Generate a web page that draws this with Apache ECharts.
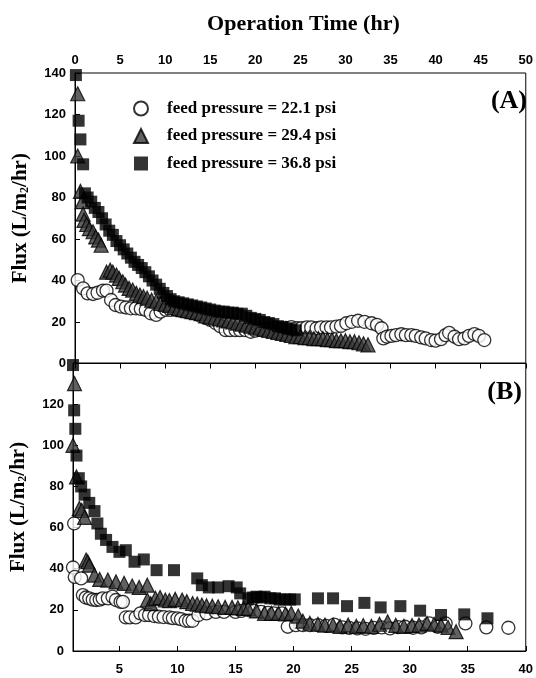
<!DOCTYPE html>
<html>
<head>
<meta charset="utf-8">
<script src="https://cdn.jsdelivr.net/npm/echarts@6/dist/echarts.min.js"></script>
<style>
  html, body { margin: 0; padding: 0; background: #fff; }
  #chart { width: 536px; height: 678px; }
</style>
</head>
<body>
<div id="chart"></div>
<script>
// series names
var names = ['feed pressure = 22.1 psi', 'feed pressure = 29.4 psi', 'feed pressure = 36.8 psi'];

// panel A: operation time (hr) vs flux
var aTime22 = [0.3, 0.9, 1.4, 2.0, 2.5, 3.1, 3.5, 4.0, 4.5, 5.1, 5.65, 6.2, 6.75, 7.3, 7.85, 8.4, 9.0, 9.5, 10.1, 10.6, 11.2, 11.7, 12.3, 12.8, 13.4, 13.9, 14.5, 15.0, 15.6, 16.1, 16.7, 17.2, 17.8, 18.3, 18.9, 19.5, 20.0, 20.6, 21.1, 21.7, 22.2, 22.8, 23.4, 24.0, 24.6, 25.1, 25.7, 26.2, 26.8, 27.3, 27.9, 28.4, 29.0, 29.5, 30.1, 30.7, 31.4, 32.1, 32.9, 33.5, 34.0, 34.2, 34.6, 35.1, 35.6, 36.2, 36.7, 37.3, 37.8, 38.4, 38.9, 39.5, 40.0, 40.6, 41.1, 41.5, 42.1, 42.6, 43.2, 43.7, 44.3, 44.8, 45.4];
var aFlux22 = [40.2, 36.2, 33.8, 33.5, 34.1, 35.1, 35.1, 30.6, 28.2, 27.4, 27.0, 26.6, 26.6, 26.3, 25.8, 24.2, 23.4, 25.0, 25.8, 25.8, 25.8, 25.5, 25.0, 24.5, 24.0, 23.0, 22.0, 21.0, 19.5, 18.0, 16.1, 16.1, 16.1, 16.1, 16.1, 15.3, 15.8, 16.2, 16.5, 16.8, 17.0, 16.5, 17.2, 17.5, 17.0, 17.0, 17.4, 17.4, 17.0, 17.4, 17.4, 17.4, 17.8, 18.1, 19.4, 20.1, 20.6, 20.1, 19.4, 18.6, 17.0, 12.1, 12.9, 13.3, 13.7, 14.1, 13.7, 13.7, 13.3, 12.6, 12.1, 11.3, 11.0, 11.7, 13.7, 14.8, 12.9, 11.7, 12.1, 13.3, 14.2, 13.3, 11.3];

var aTime29 = [0.3, 0.3, 0.6, 0.8, 0.9, 1.0, 1.3, 1.6, 2.0, 2.3, 2.6, 2.9, 3.5, 3.9, 4.2, 4.6, 4.9, 5.3, 5.6, 6.0, 6.4, 6.8, 7.2, 7.6, 8.0, 8.5, 9.0, 9.5, 10.0, 10.5, 11.0, 11.5, 12.0, 12.5, 13.0, 13.5, 14.0, 14.5, 15.0, 15.5, 16.0, 16.5, 17.0, 17.5, 18.0, 18.5, 19.0, 19.5, 20.0, 20.5, 21.0, 21.5, 22.0, 22.5, 23.0, 23.5, 24.0, 24.5, 25.0, 25.5, 26.0, 26.5, 27.0, 27.5, 28.0, 28.5, 29.0, 29.5, 30.0, 30.5, 31.0, 31.5, 32.0, 32.5];
var aFlux29 = [130, 100, 83, 78, 72, 69, 67, 65, 63.5, 61, 59.5, 57, 44, 45, 44, 42.6, 41, 39.4, 37.8, 36.2, 35.4, 33.8, 33, 32.2, 31.5, 30.5, 30, 29, 28.5, 28, 27, 26.5, 26, 25.5, 25, 24.5, 24, 23, 22.5, 22, 21.5, 21, 20.5, 20, 19.5, 19, 18.5, 18, 17.5, 17, 16.5, 16, 15.5, 15, 14.5, 14, 13.5, 13, 13, 12.5, 12.5, 12, 12, 12, 11.5, 11.5, 11, 11, 11, 10.5, 10.5, 10, 9.5, 9];

var aTime36 = [0.1, 0.4, 0.6, 0.9, 1.1, 1.4, 1.8, 2.2, 2.6, 3.0, 3.4, 3.8, 4.2, 4.6, 5.0, 5.4, 5.8, 6.2, 6.6, 7.0, 7.4, 7.8, 8.2, 8.6, 9.0, 9.4, 9.8, 10.2, 10.6, 11.0, 11.5, 12.0, 12.5, 13.0, 13.5, 14.0, 14.5, 15.0, 15.5, 16.0, 16.5, 17.0, 17.5, 18.0, 18.5, 19.0, 19.5, 20.0, 20.5, 21.0, 21.5, 22.0, 22.5, 23.0, 23.5, 24.0, 24.5];
var aFlux36 = [139, 117, 108, 96, 82, 80, 78, 75, 73, 70, 67, 64, 62, 59, 57, 55, 53, 51, 49, 47.5, 46, 44, 42, 40, 38, 36, 34, 32.5, 31, 30, 29.5, 29, 28.5, 28, 27.5, 27, 26.5, 26, 25.5, 25, 25, 24.5, 24.5, 24, 24, 23, 22, 21.5, 21, 20, 19.5, 19, 18, 17.5, 17, 16.5, 16];

// panel B
var bX22 = [1.0, 1.1, 1.15, 1.7, 1.85, 2.1, 2.4, 2.7, 3.0, 3.3, 3.55, 4.0, 4.4, 4.7, 5.1, 5.3, 5.55, 5.9, 6.4, 6.8, 7.2, 7.55, 8.0, 8.4, 8.8, 9.3, 9.6, 10.0, 10.3, 10.7, 11.0, 11.3, 11.8, 12.5, 13.3, 14.0, 15.0, 15.5, 16.1, 16.6, 17.2, 17.8, 18.3, 19.0, 19.5, 20.2, 20.8, 21.4, 22.1, 22.8, 23.5, 24.2, 24.8, 25.5, 26.2, 26.9, 27.6, 28.3, 29.0, 29.6, 30.3, 31.0, 31.7, 32.4, 33.1, 34.8, 36.6, 38.5];
var bFlux22 = [40.6, 62, 36, 35.3, 27.2, 26, 25.6, 25, 24.8, 25, 25.6, 25.6, 26.4, 24.8, 23.9, 23.9, 16.3, 16.3, 16.3, 18.3, 17.5, 17.5, 17, 16.7, 16.5, 16.3, 16, 15.9, 15.5, 14.7, 14.7, 14.7, 17.5, 18.3, 19, 19, 19, 19.5, 19.9, 19.5, 19, 18.5, 18.3, 18.3, 11.8, 12.6, 12.6, 12.6, 12.6, 12.2, 12.8, 11.5, 11.2, 11, 10.8, 11.2, 11.5, 11, 11.6, 11.8, 11.3, 11.5, 13.4, 11.8, 13.4, 13.4, 11.5, 11.3];

var bX29 = [1.13, 1.0, 1.3, 1.55, 1.75, 2.0, 2.13, 2.27, 2.4, 2.85, 3.3, 4.0, 4.7, 5.4, 6.1, 6.7, 7.4, 7.4, 7.7, 8.1, 8.5, 8.95, 9.3, 9.8, 10.4, 10.8, 11.3, 11.7, 12.1, 12.5, 13.0, 13.5, 14.1, 14.7, 15.2, 15.7, 16.1, 16.8, 17.5, 18.1, 18.7, 19.3, 19.8, 20.4, 20.8, 21.4, 22.1, 22.7, 23.4, 24.0, 24.7, 25.4, 26.0, 26.7, 27.4, 28.1, 28.8, 29.5, 30.2, 30.8, 31.5, 32.1, 32.7, 33.3, 34.0];
var bFlux29 = [130, 100, 84.6, 69.3, 68.4, 65, 44.2, 43.4, 41.7, 36.9, 34.8, 34.5, 33.6, 32.9, 31.6, 30.9, 32, 24.8, 23, 25.6, 26, 24.8, 24.5, 25.1, 24.8, 24, 23.1, 22.8, 22.3, 22, 21.8, 21.5, 21.2, 21.2, 21, 20.7, 20.7, 19.5, 18.3, 18.3, 18.3, 18, 18.3, 17, 14.5, 13.5, 13, 12.6, 12.6, 12, 12.6, 12, 12.4, 12, 13, 14.2, 12.5, 12, 12.4, 12.6, 13.4, 13, 12.6, 11.5, 9.4];

var bX36 = [1.0, 1.1, 1.2, 1.3, 1.5, 1.7, 2.0, 2.4, 2.85, 3.1, 3.4, 3.85, 4.4, 5.0, 5.55, 6.3, 7.1, 8.2, 9.7, 11.7, 12.1, 12.7, 13.5, 14.4, 15.1, 15.4, 16.1, 16.5, 16.8, 17.2, 17.5, 18.0, 18.4, 18.8, 19.25, 19.7, 20.1, 22.1, 23.4, 24.6, 26.1, 27.5, 29.2, 30.9, 32.7, 34.7, 36.7];
var bFlux36 = [139, 117, 108, 95, 84, 80, 76, 72, 68, 62, 57, 54, 50.6, 48.2, 49, 43.4, 44.5, 39.3, 39.3, 35.3, 32, 30.9, 30.9, 31.5, 30.9, 28, 25.6, 26, 26.4, 26, 26.4, 25.6, 25.6, 25, 25.1, 25, 25.1, 25.6, 25.6, 21.8, 23.4, 21.2, 21.8, 19.6, 17.5, 17.8, 15.9];

// tick labels
var bXTicks = [5, 10, 15, 20, 25, 30, 35, 40];
var bYLabels = [0, 20, 40, 60, 80, 100, 120];
var yTicks = [0, 20, 40, 60, 80, 100, 120, 140];

function zip(xs, ys) {
  return xs.map(function (x, i) { return [x, ys[i]]; });
}

var serifBold = { fontFamily: 'Liberation Serif', fontWeight: 'bold', color: '#000' };
var tickFont = { fontFamily: 'Liberation Sans', fontWeight: 'bold', fontSize: 13, color: '#000' };
var blackLine = { show: true, lineStyle: { color: '#000', width: 1 } };
var inTick = { show: true, inside: true, length: 5, lineStyle: { color: '#000', width: 1 } };

var yName = '{a|Flux (L/m}{s|2}{a|/hr)}';
var yNameStyle = {
  rich: {
    a: { fontFamily: 'Liberation Serif', fontWeight: 'bold', fontSize: 21, color: '#000' },
    s: { fontFamily: 'Liberation Serif', fontWeight: 'bold', fontSize: 12, color: '#000', verticalAlign: 'bottom', padding: [9, 0, 0, 0] }
  }
};

var styles = [
  { symbol: 'circle', symbolSize: 13, itemStyle: { color: '#fff', borderColor: '#000', borderWidth: 1.3 } },
  { symbol: 'triangle', symbolSize: 14, itemStyle: { color: '#3a3a3a', borderColor: '#000', borderWidth: 1.2 } },
  { symbol: 'rect', symbolSize: 12, itemStyle: { color: '#000', borderColor: '#000', borderWidth: 0 } }
];

var panelData = [
  [zip(aTime22, aFlux22), zip(aTime29, aFlux29), zip(aTime36, aFlux36)],
  [zip(bX22, bFlux22), zip(bX29, bFlux29), zip(bX36, bFlux36)]
];

var series = [];
panelData.forEach(function (panel, p) {
  panel.forEach(function (d, k) {
    series.push({
      name: names[k],
      type: 'scatter',
      xAxisIndex: p,
      yAxisIndex: p,
      symbol: styles[k].symbol,
      symbolSize: styles[k].symbolSize,
      itemStyle: styles[k].itemStyle,
      data: d,
      z: 2 + k
    });
  });
});

var myChart = echarts.init(document.getElementById('chart'), null, { renderer: 'canvas' });
var option = {
  backgroundColor: '#fff',
  animation: false,
  grid: [
    { left: 75, top: 73, width: 454, height: 290.5, show: true, borderColor: '#000', borderWidth: 1 },
    { left: 73, top: 363, width: 456, height: 288, show: true, borderColor: '#000', borderWidth: 1 }
  ],
  legend: {
    data: names,
    orient: 'vertical',
    left: 128,
    top: 95,
    itemWidth: 14,
    itemHeight: 14,
    itemGap: 10.5,
    textStyle: { fontFamily: 'Liberation Serif', fontWeight: 'bold', fontSize: 17, color: '#000', padding: [0, 0, 0, 14] }
  },
  xAxis: [
    {
      gridIndex: 0, type: 'value', position: 'top', min: 0, max: 50, interval: 5,
      axisLine: blackLine, axisTick: inTick, splitLine: { show: false },
      axisLabel: Object.assign({ margin: 6 }, tickFont),
      name: 'Operation Time (hr)', nameLocation: 'middle', nameGap: 38,
      nameTextStyle: Object.assign({ fontSize: 22, padding: [0, 0, 0, 6] }, serifBold)
    },
    {
      gridIndex: 1, type: 'value', position: 'bottom', min: 1, max: 40,
      axisLine: blackLine, splitLine: { show: false },
      axisTick: Object.assign({ customValues: bXTicks }, inTick),
      axisLabel: Object.assign({ margin: 12, customValues: bXTicks }, tickFont)
    }
  ],
  yAxis: [
    {
      gridIndex: 0, type: 'value', min: 0, max: 140, interval: 20,
      axisLine: blackLine, axisTick: inTick, splitLine: { show: false },
      axisLabel: Object.assign({ margin: 9 }, tickFont),
      name: yName, nameLocation: 'middle', nameRotate: 90, nameGap: 44, nameTextStyle: yNameStyle
    },
    {
      gridIndex: 1, type: 'value', min: 0, max: 140,
      axisLine: blackLine, splitLine: { show: false },
      axisTick: Object.assign({ customValues: yTicks }, inTick),
      axisLabel: Object.assign({ margin: 9, customValues: bYLabels }, tickFont),
      name: yName, nameLocation: 'middle', nameRotate: 90, nameGap: 44, nameTextStyle: yNameStyle
    }
  ],
  graphic: [
    { type: 'text', x: 527, y: 101, style: { text: '(A)', align: 'right', verticalAlign: 'middle', font: 'bold 26px "Liberation Serif"', fill: '#000' } },
    { type: 'text', x: 522, y: 392, style: { text: '(B)', align: 'right', verticalAlign: 'middle', font: 'bold 26px "Liberation Serif"', fill: '#000' } }
  ],
  series: series
};
myChart.setOption(option);
</script>
</body>
</html>
